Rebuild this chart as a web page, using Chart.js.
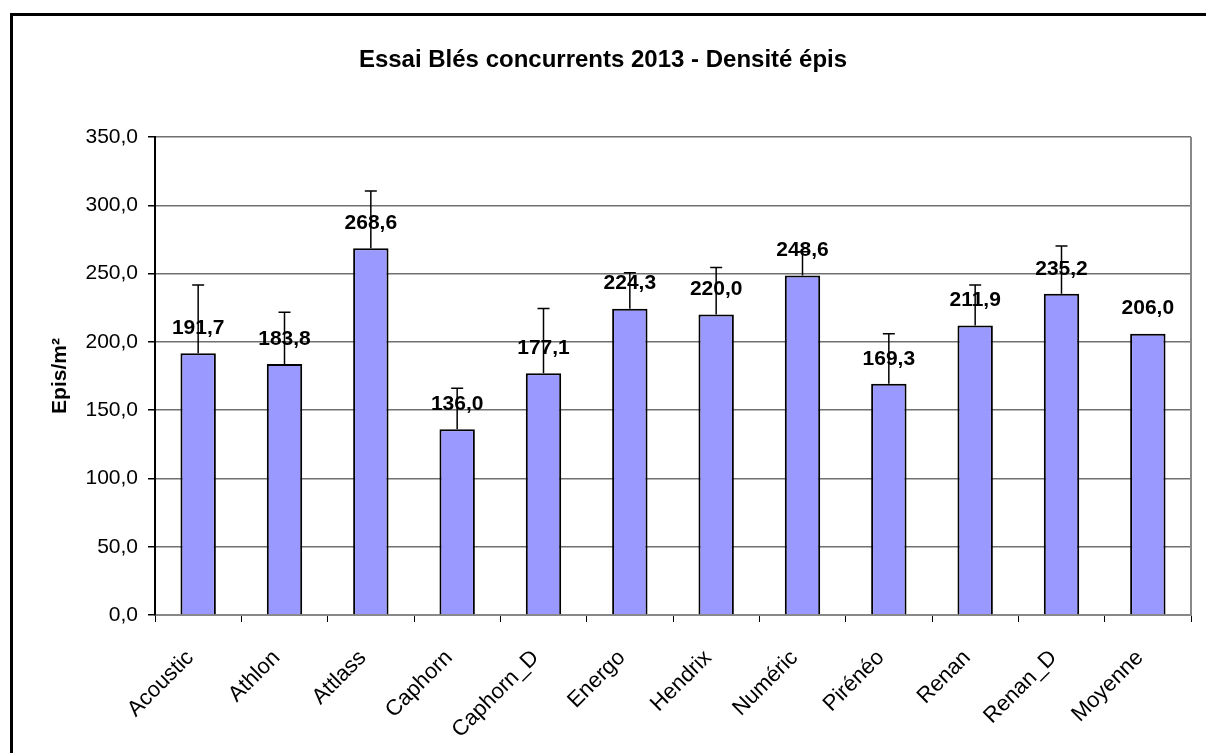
<!DOCTYPE html>
<html>
<head>
<meta charset="utf-8">
<script src="https://cdn.jsdelivr.net/npm/chart.js@4"></script>
<style>
  body { margin: 0; background: #fff; overflow: hidden; }
  #frame { position: absolute; left: 10px; top: 13px; width: 1300px; height: 900px; border: 3px solid #000; box-sizing: border-box; }
  #chart { position: absolute; left: 0; top: 0; }
</style>
</head>
<body>
<div id="frame"></div>
<canvas id="chart" width="1206" height="753"></canvas>
<script>
// data
const varieties = ['Acoustic', 'Athlon', 'Attlass', 'Caphorn', 'Caphorn_D', 'Energo',
  'Hendrix', 'Numéric', 'Pirénéo', 'Renan', 'Renan_D', 'Moyenne'];
const densite = [191.7, 183.8, 268.6, 136.0, 177.1, 224.3, 220.0, 248.6, 169.3, 211.9, 235.2, 206.0];
// upward error (Epis/m²), none for the mean
const ecart = [49.9, 37.8, 41.8, 30.0, 47.4, 26.3, 34.5, 17.4, 36.7, 29.7, 34.9, null];

const FONT = '"Liberation Sans", Arial, sans-serif';
const fmt = v => v.toFixed(1).replace('.', ',');

// title, error bars and value labels
const extras = {
  id: 'extras',
  afterDatasetsDraw(chart) {
    const ctx = chart.ctx;
    const y = chart.scales.y;
    const meta = chart.getDatasetMeta(0);
    const area = chart.chartArea;

    ctx.save();
    // plot area right border
    ctx.strokeStyle = '#888';
    ctx.lineWidth = 2;
    ctx.beginPath();
    ctx.moveTo(area.right, area.top);
    ctx.lineTo(area.right, area.bottom);
    ctx.stroke();

    // error bars
    ctx.strokeStyle = '#000';
    ctx.lineWidth = 1.5;
    meta.data.forEach((bar, i) => {
      if (ecart[i] == null) return;
      const yTop = y.getPixelForValue(densite[i] + ecart[i]);
      ctx.beginPath();
      ctx.moveTo(bar.x, bar.y);
      ctx.lineTo(bar.x, yTop);
      ctx.moveTo(bar.x - 6, yTop);
      ctx.lineTo(bar.x + 6, yTop);
      ctx.stroke();
    });

    // value labels
    ctx.fillStyle = '#000';
    ctx.font = 'bold 21px ' + FONT;
    ctx.textAlign = 'center';
    ctx.textBaseline = 'middle';
    meta.data.forEach((bar, i) => {
      ctx.fillText(fmt(densite[i]), bar.x, bar.y - 25);
    });

    // chart title
    ctx.font = 'bold 24px ' + FONT;
    ctx.fillText('Essai Blés concurrents 2013 - Densité épis', chart.width / 2, 60);
    ctx.restore();
  }
};

new Chart(document.getElementById('chart'), {
  type: 'bar',
  data: {
    labels: varieties,
    datasets: [{
      data: densite,
      backgroundColor: '#9999FF',
      borderColor: '#000',
      borderWidth: 2,
      barPercentage: 0.82,
      categoryPercentage: 0.5
    }]
  },
  options: {
    responsive: false,
    animation: false,
    layout: { padding: { top: 137, right: 15, left: 0, bottom: 0 } },
    plugins: {
      legend: { display: false },
      tooltip: { enabled: false }
    },
    scales: {
      x: {
        grid: { display: true, drawOnChartArea: false, offset: true, tickLength: 7, color: '#000' },
        border: { color: '#888', width: 2 },
        ticks: {
          font: { family: FONT, size: 22 },
          color: '#000',
          maxRotation: 45,
          minRotation: 45,
          autoSkip: false,
          padding: 23,
          labelOffset: -8
        },
        afterFit: s => { s.height = 138; }
      },
      y: {
        min: 0,
        max: 350,
        grid: { color: '#707070', lineWidth: 1.5, tickLength: 7, tickColor: '#000' },
        border: { color: '#000', width: 2 },
        ticks: {
          stepSize: 50,
          font: { family: FONT, size: 21 },
          color: '#000',
          padding: 10,
          callback: v => fmt(v)
        },
        title: {
          display: true,
          text: 'Epis/m²',
          color: '#000',
          font: { family: FONT, size: 21, weight: 'bold' },
          padding: { top: 48 }
        },
        afterFit: s => { s.width = 155; }
      }
    }
  },
  plugins: [extras]
});
</script>
</body>
</html>
